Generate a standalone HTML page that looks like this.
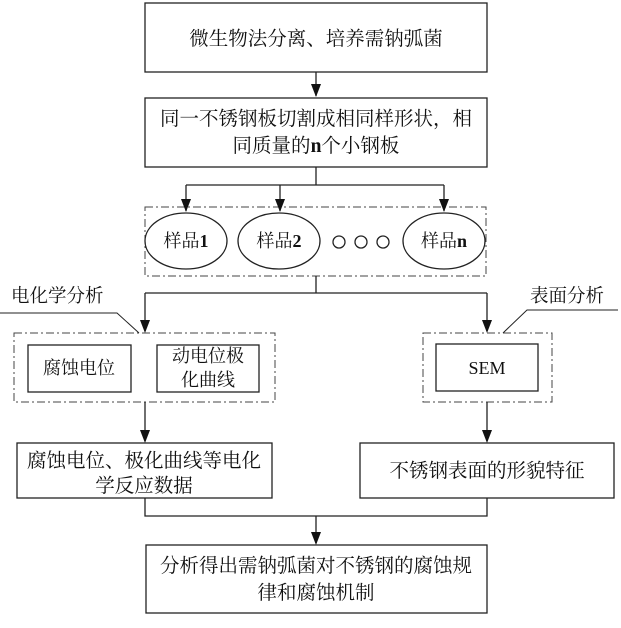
<!DOCTYPE html>
<html><head><meta charset="utf-8"><style>
body{margin:0;background:#fff;}
svg text{font-family:"Liberation Serif","Noto Serif CJK SC","Noto Sans CJK SC",serif;fill:#111;}
</style></head><body>
<svg width="621" height="623" viewBox="0 0 621 623" xmlns="http://www.w3.org/2000/svg">
<defs><marker id="a" markerWidth="10" markerHeight="12" refX="5" refY="12" orient="auto-start-reverse" markerUnits="userSpaceOnUse" viewBox="0 0 10 12"><path d="M0,0 L10,0 L5,12 Z" fill="#111" transform="rotate(0)"/></marker></defs>
<g stroke="#222" stroke-width="1.3" fill="none">
<rect x="145" y="3" width="342" height="69"/>
<rect x="145" y="98" width="342" height="69"/>
<rect x="17" y="443" width="255" height="55"/>
<rect x="360" y="443" width="254" height="55"/>
<rect x="146" y="545" width="341" height="68"/>
<rect x="28" y="345" width="103" height="47"/>
<rect x="157" y="345" width="102" height="47"/>
<rect x="436" y="344" width="102" height="47"/>
<g stroke-dasharray="8,3,2,3" stroke="#444" stroke-width="1">
<rect x="145" y="207" width="341" height="69"/>
<rect x="14" y="333" width="261" height="69"/>
<rect x="423" y="333" width="129" height="69"/>
</g>
<ellipse cx="186" cy="241" rx="41" ry="28"/>
<ellipse cx="279" cy="241" rx="41" ry="28"/>
<ellipse cx="444" cy="241" rx="41" ry="28"/>
<circle cx="339" cy="242" r="6"/>
<circle cx="361" cy="242" r="6"/>
<circle cx="383" cy="242" r="6"/>
<path d="M316,72V96"/>
<path d="M316,167V185M186,185H444M186,185V211M280,185V211M444,185V211"/>
<path d="M316,276V293M145,293H487M145,293V331M487,293V331"/>
<path d="M145,402V441M487,402V441"/>
<path d="M145,498V516H487V498M316,516V543"/>
<path d="M0,313H117L139,333M618,310H527L503,333" stroke-width="1"/>
</g>
<g fill="#111">
<path d="M311,84h10l-5,13z"/>
<path d="M181,199h10l-5,13z"/><path d="M275,199h10l-5,13z"/><path d="M439,199h10l-5,13z"/>
<path d="M140,320h10l-5,13z"/><path d="M482,320h10l-5,13z"/>
<path d="M140,430h10l-5,13z"/><path d="M482,430h10l-5,13z"/>
<path d="M311,532h10l-5,13z"/>
</g>
<g font-size="19.5" text-anchor="middle">
<text x="316" y="45">微生物法分离、培养需钠弧菌</text>
<text x="316" y="125">同一不锈钢板切割成相同样形状，相</text>
<text x="316" y="152">同质量的<tspan font-weight="bold">n</tspan>个小钢板</text>
<text x="144" y="467">腐蚀电位、极化曲线等电化</text>
<text x="144" y="492">学反应数据</text>
<text x="487" y="477">不锈钢表面的形貌特征</text>
<text x="316" y="572">分析得出需钠弧菌对不锈钢的腐蚀规</text>
<text x="316" y="599">律和腐蚀机制</text>
</g>
<g font-size="18" text-anchor="middle">
<text x="186" y="247">样品<tspan font-weight="bold">1</tspan></text>
<text x="279" y="247">样品<tspan font-weight="bold">2</tspan></text>
<text x="444" y="247">样品<tspan font-weight="bold">n</tspan></text>
<text x="79" y="374">腐蚀电位</text>
<text x="208" y="362">动电位极</text>
<text x="208" y="386">化曲线</text>
<text x="487" y="374">SEM</text>
</g>
<g font-size="18.5">
<text x="11" y="302">电化学分析</text>
<text x="530" y="302">表面分析</text>
</g>
</svg>
</body></html>
